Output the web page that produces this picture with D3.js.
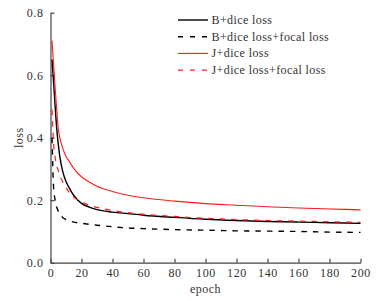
<!DOCTYPE html>
<html>
<head>
<meta charset="utf-8">
<script src="https://cdnjs.cloudflare.com/ajax/libs/d3/7.8.5/d3.min.js"></script>
<style>
  html, body { margin: 0; padding: 0; background: #fff; }
  svg text { font-family: "Liberation Serif", "DejaVu Serif", serif; fill: #333; }
</style>
</head>
<body>
<svg id="chart" width="381" height="301"></svg>
<script>
// epochs at which the loss curves were read
const epochs = [1, 2, 3, 4, 5, 6, 8, 10, 12, 15, 20, 25, 30, 40, 50, 60, 80, 100, 120, 140, 160, 180, 200]

const bDice = [0.65, 0.575, 0.50, 0.43, 0.38, 0.34, 0.29, 0.26, 0.24, 0.215, 0.19, 0.178, 0.17, 0.162, 0.157, 0.152, 0.145, 0.139, 0.135, 0.132, 0.130, 0.128, 0.126]
const bDiceFocal = [0.40, 0.24, 0.20, 0.178, 0.165, 0.155, 0.144, 0.138, 0.134, 0.130, 0.126, 0.123, 0.120, 0.115, 0.111, 0.109, 0.106, 0.104, 0.102, 0.101, 0.100, 0.098, 0.097]
const jDice = [0.71, 0.635, 0.56, 0.49, 0.43, 0.40, 0.365, 0.34, 0.325, 0.302, 0.275, 0.258, 0.245, 0.228, 0.216, 0.208, 0.197, 0.189, 0.184, 0.179, 0.175, 0.172, 0.169]
const jDiceFocal = [0.49, 0.38, 0.335, 0.31, 0.295, 0.28, 0.257, 0.24, 0.226, 0.21, 0.195, 0.184, 0.177, 0.167, 0.160, 0.155, 0.148, 0.142, 0.138, 0.135, 0.133, 0.131, 0.129]

const seriesNames = ['B+dice loss', 'B+dice loss+focal loss', 'J+dice loss', 'J+dice loss+focal loss']
const xTicks = [0, 20, 40, 60, 80, 100, 120, 140, 160, 180, 200]
const yTicks = [0, 0.2, 0.4, 0.6, 0.8]

const series = [
  { name: seriesNames[0], values: bDice, color: '#000', dash: null, width: 1.4 },
  { name: seriesNames[1], values: bDiceFocal, color: '#000', dash: '5.5,6', width: 1.4 },
  { name: seriesNames[2], values: jDice, color: '#ff1a1a', dash: null, width: 1.1 },
  { name: seriesNames[3], values: jDiceFocal, color: '#ff1a1a', dash: '5.5,6', width: 1.2 }
]

const svg = d3.select('#chart')

const x = d3.scaleLinear().domain([0, 200]).range([50.5, 360.5])
const y = d3.scaleLinear().domain([0, 0.8]).range([262.7, 12.7])

// axes, ticks point inward
const xAxis = svg.append('g')
  .attr('transform', `translate(0,${y(0)})`)
  .call(d3.axisBottom(x).tickValues(xTicks).tickSizeInner(-4).tickSizeOuter(0).tickPadding(6))

const yAxis = svg.append('g')
  .attr('transform', `translate(${x(0)},0)`)
  .call(d3.axisLeft(y).tickValues(yTicks).tickFormat(d3.format('.1f')).tickSizeInner(-4).tickSizeOuter(0).tickPadding(7))

;[xAxis, yAxis].forEach(a => {
  a.selectAll('path, line').attr('stroke', '#444').attr('stroke-width', 1.2)
  a.selectAll('text')
    .style('font-family', '"Liberation Serif", serif')
    .style('font-size', '12px')
    .style('letter-spacing', '0.6px')
    .attr('fill', '#333')
})

// axis titles
svg.append('text')
  .attr('x', (x(0) + x(200)) / 2)
  .attr('y', 293)
  .attr('text-anchor', 'middle')
  .style('font-size', '12px')
  .style('letter-spacing', '0.5px')
  .text('epoch')

svg.append('text')
  .attr('transform', `translate(23,${(y(0) + y(0.8)) / 2}) rotate(-90)`)
  .attr('text-anchor', 'middle')
  .style('font-size', '12px')
  .style('letter-spacing', '0.5px')
  .text('loss')

// curves
const line = d3.line()
  .x((d, i) => x(epochs[i]))
  .y(d => y(d))
  .curve(d3.curveMonotoneX)

svg.append('g')
  .selectAll('path')
  .data(series)
  .join('path')
  .attr('d', d => line(d.values))
  .attr('fill', 'none')
  .attr('stroke', d => d.color)
  .attr('stroke-width', d => d.width)
  .attr('stroke-dasharray', d => d.dash)

// legend
const legend = svg.append('g')
  .selectAll('g')
  .data(series)
  .join('g')
  .attr('transform', (d, i) => `translate(178,${20 + i * 16.7})`)

legend.append('line')
  .attr('x1', 0)
  .attr('x2', 30)
  .attr('stroke', d => d.color)
  .attr('stroke-width', d => d.width)
  .attr('stroke-dasharray', d => d.dash ? '5,7' : null)

legend.append('text')
  .attr('x', 33.5)
  .attr('y', 4)
  .style('font-size', '12px')
  .style('letter-spacing', '0.4px')
  .text(d => d.name)
</script>
</body>
</html>
